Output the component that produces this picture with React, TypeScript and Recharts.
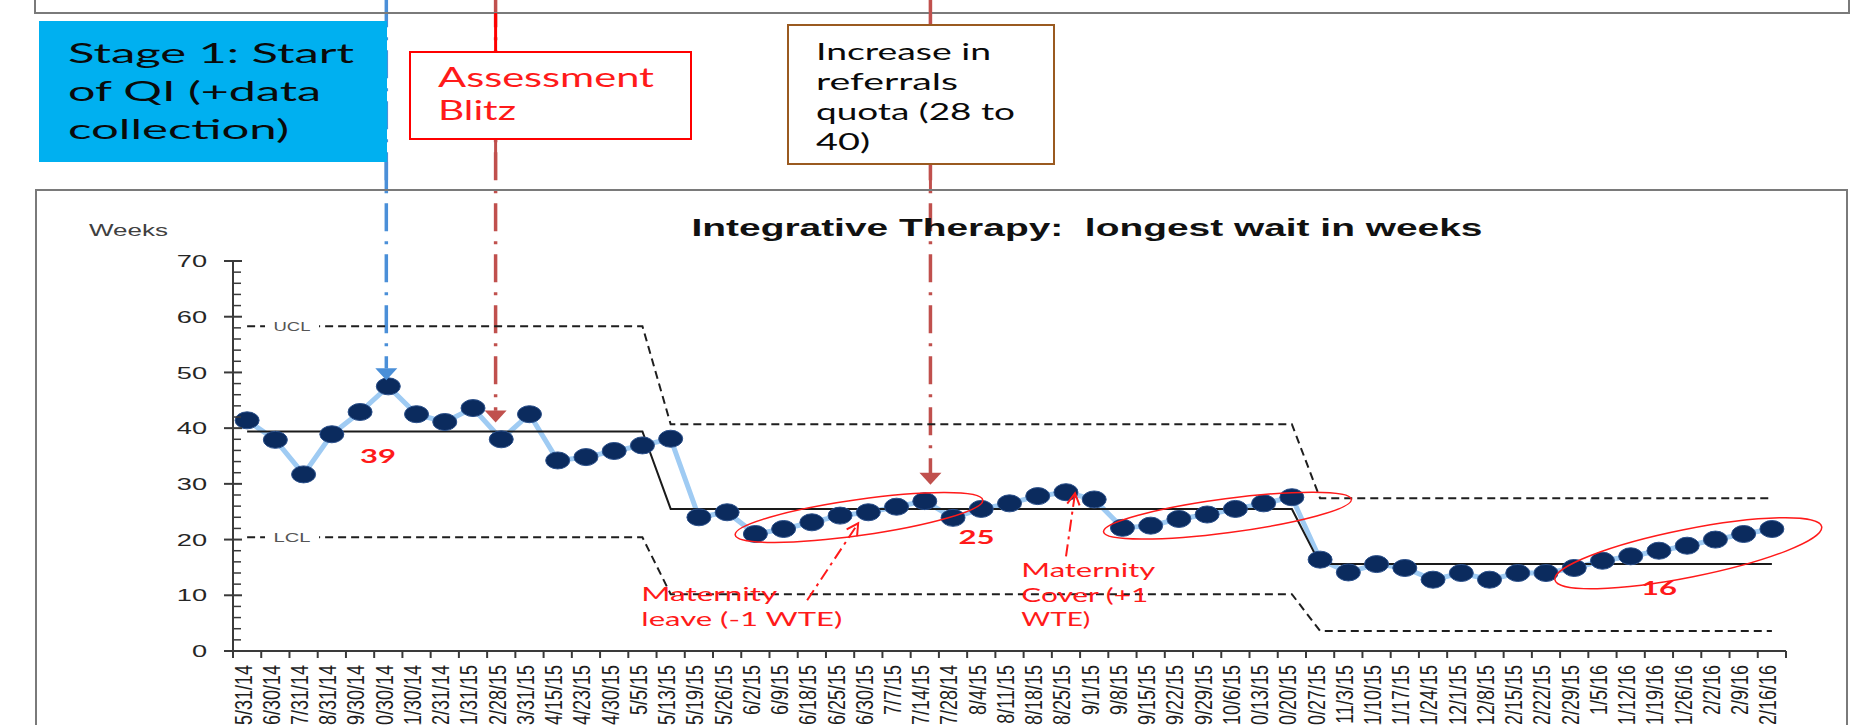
import React from 'react';
import { LineChart, Line, XAxis, YAxis, ReferenceLine, ReferenceDot } from 'recharts';

const W = 1873;
const H = 725;
const PLOT_L = 233;
const PLOT_R = 1786;
const PLOT_T = 261;
const PLOT_B = 651;
const STEP = (PLOT_R - PLOT_L) / 55;

const dates = [
  '5/31/14', '6/30/14', '7/31/14', '8/31/14', '9/30/14', '10/30/14', '11/30/14', '12/31/14',
  '1/31/15', '2/28/15', '3/31/15', '4/15/15', '4/23/15', '4/30/15', '5/5/15', '5/13/15',
  '5/19/15', '5/26/15', '6/2/15', '6/9/15', '6/18/15', '6/25/15', '6/30/15', '7/7/15',
  '7/14/15', '7/28/14', '8/4/15', '8/11/15', '8/18/15', '8/25/15', '9/1/15', '9/8/15',
  '9/15/15', '9/22/15', '9/29/15', '10/6/15', '10/13/15', '10/20/15', '10/27/15', '11/3/15',
  '11/10/15', '11/17/15', '11/24/15', '12/1/15', '12/8/15', '12/15/15', '12/22/15', '12/29/15',
  '1/5/16', '1/12/16', '1/19/16', '1/26/16', '2/2/16', '2/9/16', '2/16/16',
];

const waitWeeks = [
  41.4, 37.9, 31.7, 38.9, 42.9, 47.5, 42.5, 41.1, 43.6, 38.0,
  42.5, 34.2, 34.8, 35.9, 36.9, 38.1, 24.0, 24.9, 21.0, 21.9,
  23.1, 24.3, 24.9, 25.9, 26.9, 23.9, 25.5, 26.5, 27.8, 28.5,
  27.2, 22.1, 22.5, 23.7, 24.5, 25.5, 26.5, 27.6, 16.4, 14.1,
  15.6, 14.9, 12.8, 14.0, 12.8, 14.0, 14.0, 14.9, 16.2, 17.0,
  18.0, 18.9, 20.0, 21.0, 21.9,
];

const meanWeeks = [
  39.4, 39.4, 39.4, 39.4, 39.4, 39.4, 39.4, 39.4, 39.4, 39.4,
  39.4, 39.4, 39.4, 39.4, 39.4, 25.5, 25.5, 25.5, 25.5, 25.5,
  25.5, 25.5, 25.5, 25.5, 25.5, 25.5, 25.5, 25.5, 25.5, 25.5,
  25.5, 25.5, 25.5, 25.5, 25.5, 25.5, 25.5, 25.5, 15.6, 15.6,
  15.6, 15.6, 15.6, 15.6, 15.6, 15.6, 15.6, 15.6, 15.6, 15.6,
  15.6, 15.6, 15.6, 15.6, 15.6,
];

const uclWeeks = [
  58.3, 58.3, 58.3, 58.3, 58.3, 58.3, 58.3, 58.3, 58.3, 58.3,
  58.3, 58.3, 58.3, 58.3, 58.3, 40.7, 40.7, 40.7, 40.7, 40.7,
  40.7, 40.7, 40.7, 40.7, 40.7, 40.7, 40.7, 40.7, 40.7, 40.7,
  40.7, 40.7, 40.7, 40.7, 40.7, 40.7, 40.7, 40.7, 27.4, 27.4,
  27.4, 27.4, 27.4, 27.4, 27.4, 27.4, 27.4, 27.4, 27.4, 27.4,
  27.4, 27.4, 27.4, 27.4, 27.4,
];

const lclWeeks = [
  20.4, 20.4, 20.4, 20.4, 20.4, 20.4, 20.4, 20.4, 20.4, 20.4,
  20.4, 20.4, 20.4, 20.4, 20.4, 10.2, 10.2, 10.2, 10.2, 10.2,
  10.2, 10.2, 10.2, 10.2, 10.2, 10.2, 10.2, 10.2, 10.2, 10.2,
  10.2, 10.2, 10.2, 10.2, 10.2, 10.2, 10.2, 10.2, 3.6, 3.6,
  3.6, 3.6, 3.6, 3.6, 3.6, 3.6, 3.6, 3.6, 3.6, 3.6,
  3.6, 3.6, 3.6, 3.6, 3.6,
];

const yTicks = [
  0, 2, 4, 6, 8, 10, 12, 14, 16, 18, 20, 22, 24, 26, 28, 30, 32, 34,
  36, 38, 40, 42, 44, 46, 48, 50, 52, 54, 56, 58, 60, 62, 64, 66, 68, 70,
];

// intervention arrows (x in category index, tip in weeks)
const interventions = [
  { x: 4.93, tip: 48.6, color: '#4a8fd8' },
  { x: 8.8, tip: 41.0, color: '#c0504d' },
  { x: 24.2, tip: 29.85, color: '#c0504d' },
];

const rings = [
  { x: 21.67, y: 23.96, rx: 125, ry: 18, angle: -8 },
  { x: 34.72, y: 24.3, rx: 125, ry: 17, angle: -7.5 },
  { x: 51.04, y: 17.54, rx: 136, ry: 24, angle: -11.3 },
];

const meanLabels = [
  { x: 4.64, y: 33.75, text: '39' },
  { x: 25.83, y: 19.2, text: '25' },
  { x: 50.0, y: 10.05, text: '16' },
];

const notes = [
  { x: 13.96, y: 8.97, lines: ['Maternity', 'leave (-1 WTE)'], widths: [136, 201] },
  { x: 27.42, y: 13.28, lines: ['Maternity', 'Cover (+1', 'WTE)'], widths: [134, 127, 69] },
];

// arrow tip positions and tail offsets in px
const noteArrows = [
  { x: 21.64, y: 22.92, dx: -51, dy: 77 },
  { x: 29.32, y: 28.31, dx: -9, dy: 63 },
];

const rows = dates.map((d, i) => ({
  i,
  date: d,
  wait: waitWeeks[i],
  mean: meanWeeks[i],
  ucl: uclWeeks[i],
  lcl: lclWeeks[i],
}));

const xIdx = dates.map((_, i) => i);
const px = (idx: number) => PLOT_L + (idx + 0.5) * STEP;

const ARIAL = "'Liberation Sans', Arial, sans-serif";
const CALIBRI = "Lato, 'Open Sans', sans-serif";
const RED = '#ff1a1a';
const DASHDOT = '28 10 3 10';
const AXIS = '#3a3a3a';

const XTick = (props: any) => {
  const { x, payload, index } = props;
  const y = PLOT_B;
  const last = index === dates.length - 1;
  return (
    <g>
      <line x1={x - STEP / 2} x2={x - STEP / 2} y1={y} y2={y + 7} stroke={AXIS} strokeWidth={2} />
      {last && <line x1={x + STEP / 2} x2={x + STEP / 2} y1={y} y2={y + 7} stroke={AXIS} strokeWidth={2} />}
      <text
        transform={`translate(${x - 4}, ${y + 14}) scale(1.3, 1) rotate(-90)`}
        textAnchor="end"
        dy="0.36em"
        fontSize={18}
        fontFamily={ARIAL}
        fill="#1e1e1e"
      >
        {dates[payload.value]}
      </text>
    </g>
  );
};

const YTick = (props: any) => {
  const { y, payload } = props;
  const x = PLOT_L;
  const v = payload.value;
  const major = v % 10 === 0;
  return (
    <g>
      {major ? (
        <line x1={x - 9} x2={x + 9} y1={y} y2={y} stroke={AXIS} strokeWidth={2} />
      ) : (
        <line x1={x} x2={x + 8} y1={y} y2={y} stroke={AXIS} strokeWidth={1.5} />
      )}
      {major && (
        <text
          transform={`translate(${x - 26}, ${y}) scale(1.6, 1)`}
          textAnchor="end"
          dy="0.36em"
          fontSize={17}
          fontFamily={ARIAL}
          fill="#262626"
        >
          {v}
        </text>
      )}
    </g>
  );
};

const WaitDot = (props: any) => {
  const { cx, cy, index } = props;
  return <ellipse key={`d${index}`} cx={cx} cy={cy} rx={12} ry={8.5} fill="#0b2b5e" stroke="#2a4f8a" strokeWidth={1} />;
};

const limitTag = (text: string) => (p: any) => (
  <g>
    <rect x={p.cx - 27} y={p.cy - 7} width={54} height={14} fill="#fff" />
    <text x={p.cx} y={p.cy} dy="0.36em" textAnchor="middle" fontSize={13} fontFamily={ARIAL} fill="#555"
      textLength={37} lengthAdjust="spacingAndGlyphs">{text}</text>
  </g>
);

const arrowHead = (color: string) => (p: any) => (
  <polygon points={`${p.cx - 11},${p.cy - 12} ${p.cx + 11},${p.cy - 12} ${p.cx},${p.cy}`} fill={color} />
);

const ringShape = (r: typeof rings[number]) => (p: any) => (
  <ellipse cx={p.cx} cy={p.cy} rx={r.rx} ry={r.ry} transform={`rotate(${r.angle} ${p.cx} ${p.cy})`}
    fill="none" stroke={RED} strokeWidth={1.5} />
);

const meanLabelShape = (text: string) => (p: any) => (
  <text x={p.cx} y={p.cy} textAnchor="middle" fontSize={19} fontWeight="bold" fontFamily={CALIBRI} fill={RED}
    textLength={36} lengthAdjust="spacingAndGlyphs">{text}</text>
);

const noteShape = (n: typeof notes[number]) => (p: any) => (
  <g>
    {n.lines.map((l, k) => (
      <text key={k} x={p.cx} y={p.cy + k * 24.5} fontSize={20} fontFamily={CALIBRI} fill={RED}
        textLength={n.widths[k]} lengthAdjust="spacingAndGlyphs">{l}</text>
    ))}
  </g>
);

const noteArrowShape = (a: typeof noteArrows[number]) => (p: any) => {
  const len = Math.hypot(a.dx, a.dy);
  const ux = a.dx / len;
  const uy = a.dy / len;
  const ang = 0.5;
  const hl = 13;
  const h1x = p.cx + hl * (ux * Math.cos(ang) - uy * Math.sin(ang));
  const h1y = p.cy + hl * (ux * Math.sin(ang) + uy * Math.cos(ang));
  const h2x = p.cx + hl * (ux * Math.cos(-ang) - uy * Math.sin(-ang));
  const h2y = p.cy + hl * (ux * Math.sin(-ang) + uy * Math.cos(-ang));
  return (
    <g stroke={RED} strokeWidth={2} fill="none">
      <line x1={p.cx + a.dx} y1={p.cy + a.dy} x2={p.cx} y2={p.cy} strokeDasharray="12 5 3 5" />
      <polyline points={`${h1x},${h1y} ${p.cx},${p.cy} ${h2x},${h2y}`} />
    </g>
  );
};

export default function App() {
  const bx = px(interventions[0].x);
  const rx = px(interventions[1].x);
  const dx = px(interventions[2].x);
  return (
    <div style={{ position: 'absolute', left: 0, top: 0, width: W, height: H, background: '#fff', overflow: 'hidden' }}>
      <LineChart
        width={W}
        height={H}
        data={rows}
        margin={{ top: PLOT_T, right: W - PLOT_R, bottom: H - PLOT_B - 20, left: PLOT_L - 20 }}
      >
        <XAxis
          dataKey="i"
          type="number"
          domain={[-0.5, 54.5]}
          ticks={xIdx}
          interval={0}
          allowDataOverflow
          height={20}
          tickSize={0}
          tickMargin={0}
          tickLine={false}
          axisLine={{ stroke: AXIS, strokeWidth: 2 }}
          tick={XTick}
        />
        <YAxis
          type="number"
          domain={[0, 70]}
          ticks={yTicks}
          interval={0}
          allowDataOverflow
          width={20}
          tickSize={0}
          tickMargin={0}
          tickLine={false}
          axisLine={{ stroke: AXIS, strokeWidth: 2 }}
          tick={YTick}
        />

        {interventions.map((a, k) => (
          <ReferenceLine
            key={`s${k}`}
            segment={[{ x: a.x, y: 117 }, { x: a.x, y: a.tip + 2.1 }]}
            ifOverflow="visible"
            stroke={a.color}
            strokeWidth={3.5}
            strokeDasharray={DASHDOT}
          />
        ))}

        <Line dataKey="wait" type="linear" stroke="#9fcbf3" strokeWidth={5} dot={false} activeDot={false} isAnimationActive={false} />
        <Line dataKey="ucl" type="linear" stroke="#1e1e1e" strokeWidth={2} strokeDasharray="8 5" dot={false} activeDot={false} isAnimationActive={false} />
        <Line dataKey="lcl" type="linear" stroke="#1e1e1e" strokeWidth={2} strokeDasharray="8 5" dot={false} activeDot={false} isAnimationActive={false} />
        <Line dataKey="mean" type="linear" stroke="#1a1a1a" strokeWidth={2} dot={false} activeDot={false} isAnimationActive={false} />
        <Line dataKey="wait" type="linear" stroke="none" dot={WaitDot} activeDot={false} isAnimationActive={false} />

        <ReferenceDot x={1.59} y={uclWeeks[0]} r={1} shape={limitTag('UCL')} />
        <ReferenceDot x={1.59} y={lclWeeks[0]} r={1} shape={limitTag('LCL')} />

        {interventions.map((a, k) => (
          <ReferenceDot key={`h${k}`} x={a.x} y={a.tip} r={1} shape={arrowHead(a.color)} />
        ))}
        {rings.map((r, k) => (
          <ReferenceDot key={`r${k}`} x={r.x} y={r.y} r={1} shape={ringShape(r)} />
        ))}
        {meanLabels.map((m, k) => (
          <ReferenceDot key={`m${k}`} x={m.x} y={m.y} r={1} shape={meanLabelShape(m.text)} />
        ))}
        {notes.map((n, k) => (
          <ReferenceDot key={`n${k}`} x={n.x} y={n.y} r={1} shape={noteShape(n)} />
        ))}
        {noteArrows.map((a, k) => (
          <ReferenceDot key={`a${k}`} x={a.x} y={a.y} r={1} shape={noteArrowShape(a)} />
        ))}
      </LineChart>

      <svg width={W} height={H} style={{ position: 'absolute', left: 0, top: 0, pointerEvents: 'none' }}>
        <path d="M35 0 V13 H1849 V0" fill="none" stroke="#7a7a7a" strokeWidth={2} />
        <rect x={36} y={190} width={1811} height={600} fill="none" stroke="#7a7a7a" strokeWidth={2} />

        <line x1={bx} x2={bx} y1={162} y2={189} stroke="#4a8fd8" strokeWidth={3.5} />
        <line x1={rx} x2={rx} y1={13} y2={52} stroke="#ff0000" strokeWidth={3} />
        <line x1={rx} x2={rx} y1={139} y2={180} stroke="#c0504d" strokeWidth={3} />
        <line x1={dx} x2={dx} y1={0} y2={25} stroke="#c0504d" strokeWidth={3} />
        <line x1={dx} x2={dx} y1={164} y2={189} stroke="#c0504d" strokeWidth={3} />

        <rect x={39} y={21} width={348} height={141} fill="#00b0f0" />
        <g fontFamily={CALIBRI} fontSize={26} fill="#0a0a0a">
          <text x={68} y={63} textLength={286} lengthAdjust="spacingAndGlyphs">Stage 1: Start</text>
          <text x={68} y={101} textLength={253} lengthAdjust="spacingAndGlyphs">of QI (+data</text>
          <text x={68} y={139} textLength={221} lengthAdjust="spacingAndGlyphs">collection)</text>
        </g>

        <rect x={410} y={52} width={281} height={87} fill="#fff" stroke="#ff0000" strokeWidth={2} />
        <g fontFamily={CALIBRI} fontSize={26} fill="#ff1a1a">
          <text x={438} y={87} textLength={216} lengthAdjust="spacingAndGlyphs">Assessment</text>
          <text x={438} y={120} textLength={78} lengthAdjust="spacingAndGlyphs">Blitz</text>
        </g>

        <rect x={788} y={25} width={266} height={139} fill="#fff" stroke="#9a5a20" strokeWidth={2} />
        <g fontFamily={CALIBRI} fontSize={23} fill="#0a0a0a">
          <text x={816} y={60} textLength={175} lengthAdjust="spacingAndGlyphs">Increase in</text>
          <text x={816} y={90} textLength={142} lengthAdjust="spacingAndGlyphs">referrals</text>
          <text x={816} y={120} textLength={199} lengthAdjust="spacingAndGlyphs">quota (28 to</text>
          <text x={816} y={150} textLength={54} lengthAdjust="spacingAndGlyphs">40)</text>
        </g>

        <text x={1087} y={236} textAnchor="middle" fontFamily={ARIAL} fontWeight="bold" fontSize={23} fill="#111"
          textLength={791} lengthAdjust="spacingAndGlyphs" style={{ whiteSpace: 'pre' }}>Integrative Therapy:  longest wait in weeks</text>
        <text x={89} y={236} fontFamily={ARIAL} fontSize={16} fill="#404040"
          textLength={79} lengthAdjust="spacingAndGlyphs">Weeks</text>
      </svg>
    </div>
  );
}
